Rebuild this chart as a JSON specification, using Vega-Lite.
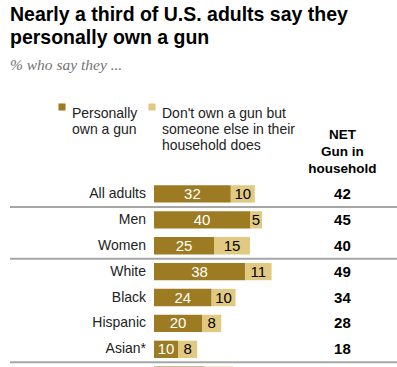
{
  "$schema": "https://vega.github.io/schema/vega-lite/v6.json",
  "width": 397,
  "height": 207.2,
  "autosize": "none",
  "padding": {"top": 181, "left": 0, "right": 0, "bottom": 0},
  "background": "white",
  "config": {"view": {"stroke": null}},
  "title": {
    "text": ["Nearly a third of U.S. adults say they", "personally own a gun"],
    "subtitle": "% who say they ...",
    "anchor": "start",
    "frame": "group",
    "dx": 10,
    "font": "Liberation Sans",
    "fontSize": 19.5,
    "fontWeight": "bold",
    "color": "#000000",
    "lineHeight": 22.5,
    "subtitleFont": "Liberation Serif",
    "subtitleFontStyle": "italic",
    "subtitleFontSize": 15.5,
    "subtitleColor": "#737373",
    "subtitlePadding": 10,
    "offset": 25
  },
  "data": {
    "values": [
      {"group": "All adults", "own": 32, "other": 10, "net": 42},
      {"group": "Men", "own": 40, "other": 5, "net": 45},
      {"group": "Women", "own": 25, "other": 15, "net": 40},
      {"group": "White", "own": 38, "other": 11, "net": 49},
      {"group": "Black", "own": 24, "other": 10, "net": 34},
      {"group": "Hispanic", "own": 20, "other": 8, "net": 28},
      {"group": "Asian*", "own": 10, "other": 8, "net": 18},
      {"group": "Ages 18-29", "own": 21, "other": 12, "net": 33}
    ]
  },
  "layer": [
    {
      "transform": [{"fold": ["own", "other"], "as": ["measure", "value"]}],
      "mark": {"type": "bar", "height": {"band": 0.67}},
      "encoding": {
        "y": {
          "field": "group",
          "type": "nominal",
          "scale": {
            "domain": ["All adults", "Men", "Women", "White", "Black", "Hispanic", "Asian*", "Ages 18-29"],
            "paddingInner": 0,
            "paddingOuter": 0
          },
          "axis": null
        },
        "x": {
          "field": "value",
          "type": "quantitative",
          "stack": "zero",
          "scale": {"domain": [-64.1667, 101.25], "nice": false, "zero": false},
          "axis": null
        },
        "color": {
          "field": "measure",
          "type": "nominal",
          "scale": {"domain": ["own", "other"], "range": ["#9c7b22", "#e2c982"]},
          "legend": {
            "title": null,
            "orient": "none",
            "legendX": 55,
            "legendY": -81,
            "direction": "horizontal",
            "columns": 2,
            "columnPadding": 7,
            "symbolType": "square",
            "symbolSize": 50,
            "symbolStrokeWidth": 0,
            "labelFont": "Liberation Sans",
            "labelFontSize": 14,
            "labelColor": "#222222",
            "labelLimit": 0,
            "labelOffset": 3,
            "labelBaseline": "top",
            "labelExpr": "datum.label == 'own' ? ['Personally', 'own a gun', ''] : [\"Don't own a gun but\", 'someone else in their', 'household does']"
          }
        },
        "order": {"field": "measure", "sort": "descending"}
      }
    },
    {
      "transform": [
        {"filter": "datum.group != 'Ages 18-29'"},
        {"fold": ["own", "other"], "as": ["measure", "value"]},
        {"stack": "value", "groupby": ["group"], "sort": [{"field": "measure", "order": "descending"}], "as": ["v0", "v1"]},
        {"calculate": "(datum.v0 + datum.v1) / 2", "as": "mid"}
      ],
      "mark": {"type": "text", "font": "Liberation Sans", "fontSize": 15, "baseline": "middle"},
      "encoding": {
        "y": {"field": "group", "type": "nominal"},
        "x": {"field": "mid", "type": "quantitative"},
        "text": {"field": "value", "type": "quantitative"},
        "color": {"condition": {"test": "datum.measure == 'own'", "value": "white"}, "value": "black"}
      }
    },
    {
      "transform": [{"filter": "datum.group != 'Ages 18-29'"}],
      "mark": {"type": "text", "font": "Liberation Sans", "fontSize": 14, "align": "right", "baseline": "middle", "dx": -8, "color": "#222222"},
      "encoding": {
        "y": {"field": "group", "type": "nominal"},
        "x": {"datum": 0},
        "text": {"field": "group", "type": "nominal"}
      }
    },
    {
      "transform": [{"filter": "datum.group != 'Ages 18-29'"}],
      "mark": {"type": "text", "font": "Liberation Sans", "fontSize": 15, "fontWeight": "bold", "align": "center", "baseline": "middle", "color": "black"},
      "encoding": {
        "y": {"field": "group", "type": "nominal"},
        "x": {"datum": 78.5},
        "text": {"field": "net", "type": "quantitative"}
      }
    },
    {
      "data": {"values": [{"header": "NET"}]},
      "mark": {"type": "text", "font": "Liberation Sans", "fontSize": 13.5, "fontWeight": "bold", "align": "center", "baseline": "top", "lineHeight": 17, "dy": -53, "color": "black", "text": ["NET", "Gun in", "household"]},
      "encoding": {
        "y": {"datum": "All adults", "type": "nominal", "bandPosition": 0},
        "x": {"datum": 78.5}
      }
    },
    {
      "data": {"values": [{"before": "Men"}, {"before": "White"}, {"before": "Ages 18-29"}]},
      "mark": {"type": "rule", "color": "#a6a6a6", "strokeWidth": 2},
      "encoding": {
        "y": {"field": "before", "type": "nominal", "bandPosition": 0},
        "x": {"datum": -60},
        "x2": {"datum": 101.25}
      }
    }
  ]
}
